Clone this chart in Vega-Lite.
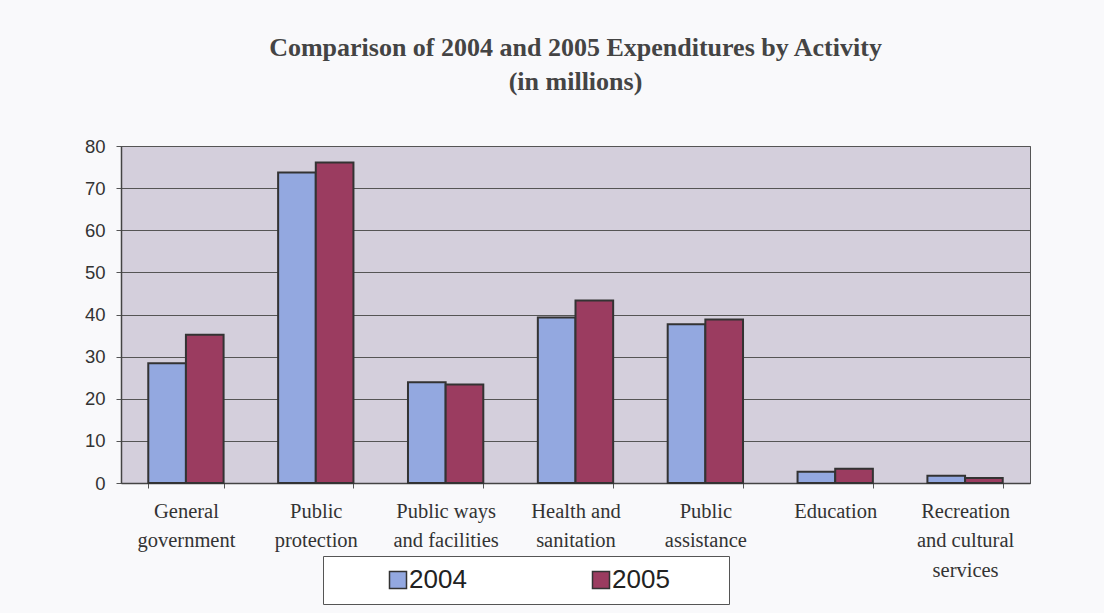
{
  "$schema": "https://vega.github.io/schema/vega-lite/v6.json",
  "autosize": "none",
  "width": 909,
  "height": 337,
  "padding": {"left": 121, "top": 146, "right": 74, "bottom": 130},
  "background": "#f9f9fb",
  "title": {
    "text": ["Comparison of 2004 and 2005 Expenditures by Activity", "(in millions)"],
    "font": "Liberation Serif",
    "fontSize": 26,
    "fontWeight": "bold",
    "color": "#444444",
    "lineHeight": 34,
    "anchor": "middle",
    "frame": "group",
    "offset": 42
  },
  "data": {
    "values": [
      {"activity": "General government", "year": "2004", "value": 28.4},
      {"activity": "General government", "year": "2005", "value": 35.2},
      {"activity": "Public protection", "year": "2004", "value": 73.7},
      {"activity": "Public protection", "year": "2005", "value": 76.1},
      {"activity": "Public ways and facilities", "year": "2004", "value": 23.9},
      {"activity": "Public ways and facilities", "year": "2005", "value": 23.4},
      {"activity": "Health and sanitation", "year": "2004", "value": 39.3},
      {"activity": "Health and sanitation", "year": "2005", "value": 43.3},
      {"activity": "Public assistance", "year": "2004", "value": 37.7},
      {"activity": "Public assistance", "year": "2005", "value": 38.8},
      {"activity": "Education", "year": "2004", "value": 2.7},
      {"activity": "Education", "year": "2005", "value": 3.4},
      {"activity": "Recreation and cultural services", "year": "2004", "value": 1.7},
      {"activity": "Recreation and cultural services", "year": "2005", "value": 1.2}
    ]
  },
  "mark": {"type": "bar", "stroke": "#333333", "strokeWidth": 2},
  "encoding": {
    "x": {
      "field": "activity",
      "type": "nominal",
      "sort": null,
      "title": null,
      "scale": {"paddingInner": 0.42, "paddingOuter": 0.21},
      "axis": {
        "labelAngle": 0,
        "tickBand": "extent",
        "labelFont": "Liberation Serif",
        "labelFontSize": 20.5,
        "labelColor": "#333333",
        "labelLineHeight": 29.5,
        "labelPadding": 13,
        "labelLimit": 200,
        "tickSize": 5,
        "tickColor": "#555555",
        "domainColor": "#444444",
        "domainWidth": 1.5,
        "labelExpr": "datum.value == 'General government' ? ['General', 'government'] : datum.value == 'Public protection' ? ['Public', 'protection'] : datum.value == 'Public ways and facilities' ? ['Public ways', 'and facilities'] : datum.value == 'Health and sanitation' ? ['Health and', 'sanitation'] : datum.value == 'Public assistance' ? ['Public', 'assistance'] : datum.value == 'Recreation and cultural services' ? ['Recreation', 'and cultural', 'services'] : datum.value"
      }
    },
    "xOffset": {"field": "year", "type": "nominal", "scale": {"paddingInner": 0, "paddingOuter": 0}},
    "y": {
      "field": "value",
      "type": "quantitative",
      "title": null,
      "scale": {"domain": [0, 80], "nice": false},
      "axis": {
        "values": [0, 10, 20, 30, 40, 50, 60, 70, 80],
        "grid": true,
        "gridColor": "#555555",
        "gridWidth": 1,
        "labelFont": "Liberation Sans",
        "labelFontSize": 18.5,
        "labelColor": "#333333",
        "labelPadding": 11,
        "tickSize": 5,
        "tickColor": "#555555",
        "domainColor": "#444444",
        "domainWidth": 1.5
      }
    },
    "color": {
      "field": "year",
      "type": "nominal",
      "scale": {"domain": ["2004", "2005"], "range": ["#93a8e0", "#9b3c60"]},
      "legend": {
        "title": "\u2800",
        "titleOrient": "right",
        "titlePadding": 27,
        "titleFontSize": 26,
        "titleFont": "DejaVu Sans",
        "orient": "none",
        "legendX": 202,
        "legendY": 410,
        "direction": "horizontal",
        "fillColor": "#ffffff",
        "strokeColor": "#555555",
        "padding": 11,
        "symbolType": "square",
        "symbolSize": 289,
        "symbolStrokeColor": "#333333",
        "symbolStrokeWidth": 1.5,
        "symbolOffset": 51,
        "labelOffset": -2,
        "labelFont": "Liberation Sans",
        "labelFontSize": 26,
        "labelColor": "#222222",
        "columnPadding": 70
      }
    }
  },
  "config": {
    "view": {"fill": "#d4cfdc", "stroke": "#555555", "strokeWidth": 1}
  }
}
